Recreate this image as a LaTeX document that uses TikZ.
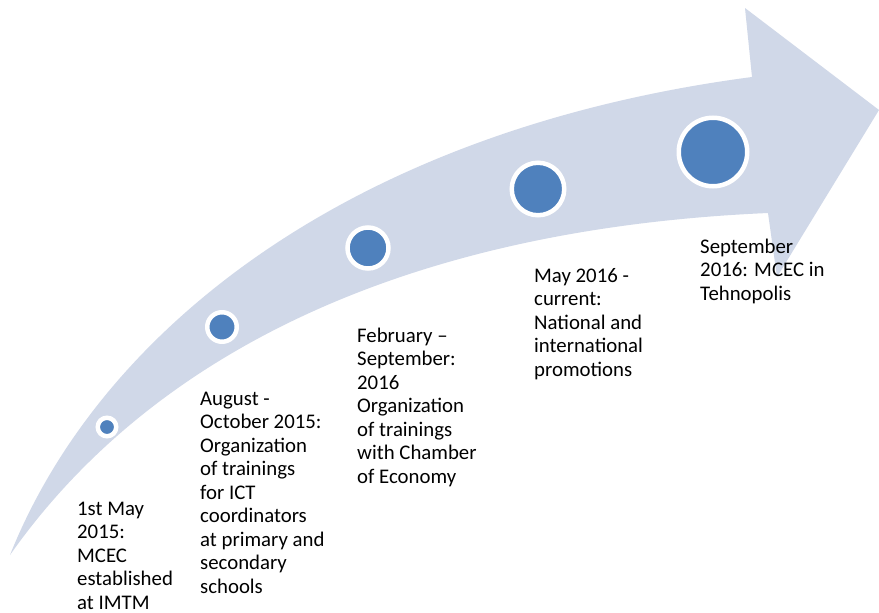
\documentclass[tikz,border=0pt]{standalone}
\usepackage{fontspec}
\setmainfont{Carlito}
\definecolor{band}{RGB}{208,216,232}
\definecolor{dotblue}{RGB}{79,129,189}
\begin{document}
\begin{tikzpicture}[x=1pt,y=-1pt,
  dot/.style={circle, inner sep=0pt, fill=dotblue, draw=white, line width=4.5pt},
  lbl/.style={anchor=base west, inner sep=0pt, align=left, text=black,
    font=\fontsize{20.8}{23.5}\selectfont}]
\useasboundingbox (0,0) rectangle (879,613);
\fill[white] (0,0) rectangle (879,613);
% curved arrow
\fill[band] (10,555) .. controls (100,330) and (350,130) .. (752,77)
  -- (745,8) -- (879,110) -- (777,277) -- (768,213)
  .. controls (380,230) and (140,370) .. (10,555) -- cycle;
% milestones
\node[dot, minimum size=18.5pt] (d1) at (107,427) {};
\node[dot, minimum size=29.5pt] (d2) at (222,327) {};
\node[dot, minimum size=41pt]   (d3) at (368,248) {};
\node[dot, minimum size=52.5pt] (d4) at (538,189) {};
\node[dot, minimum size=68.5pt] (d5) at (713,152) {};
% labels (anchored at the baseline of the last line)
\node[lbl] (t1) at (77,609) {1st May\\2015:\\MCEC\\established\\at IMTM};
\node[lbl] (t2) at (200,593) {August -\\October 2015:\\Organization\\of trainings\\for ICT\\coordinators\\at primary and\\secondary\\schools};
\node[lbl] (t3) at (357,483) {February –\\September:\\2016\\Organization\\of trainings\\with Chamber\\of Economy};
\node[lbl] (t4) at (534,376) {May 2016 -\\current:\\National and\\international\\promotions};
\node[lbl] (t5) at (700,300) {September\\2016: MCEC in\\Tehnopolis};
\end{tikzpicture}
\end{document}
